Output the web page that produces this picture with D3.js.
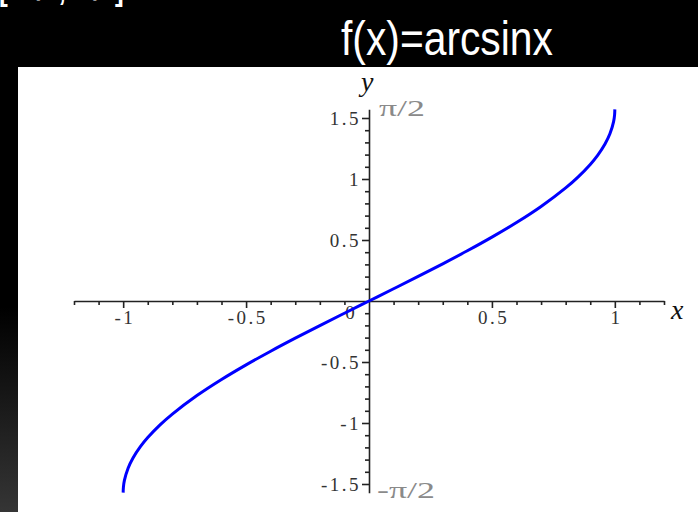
<!DOCTYPE html>
<html>
<head>
<meta charset="utf-8">
<script src="https://d3js.org/d3.v7.min.js"></script>
<style>
  html, body { margin: 0; padding: 0; background: #000; overflow: hidden; }
  svg { display: block; }
</style>
</head>
<body>
<svg id="chart" width="698" height="512"></svg>
<script>
// values: x and arcsin(x)
var xValues = [-1, -0.999, -0.995, -0.98, -0.96, -0.93, -0.9, -0.85, -0.8, -0.7, -0.6, -0.5, -0.4, -0.3, -0.2, -0.1,
               0, 0.1, 0.2, 0.3, 0.4, 0.5, 0.6, 0.7, 0.8, 0.85, 0.9, 0.93, 0.96, 0.98, 0.995, 0.999, 1];
var yValues = [-1.5708, -1.5261, -1.4708, -1.3705, -1.2870, -1.1944, -1.1198, -1.0160, -0.9273, -0.7754, -0.6435,
               -0.5236, -0.4115, -0.3047, -0.2014, -0.1002,
               0, 0.1002, 0.2014, 0.3047, 0.4115, 0.5236, 0.6435, 0.7754, 0.9273, 1.0160, 1.1198, 1.1944, 1.2870,
               1.3705, 1.4708, 1.5261, 1.5708];
var xMajorTicks = [-1, -0.5, 0.5, 1];
var yMajorTicks = [-1.5, -1, -0.5, 0.5, 1, 1.5];
var xDomain = [-1.2, 1.2];
var yDomain = [-Math.PI / 2, Math.PI / 2];
var titleText = "f(x)=arcsinx";
var topText = "[-\u03c0/2, \u03c0/2]";
var piLabels = ["\u03c0/2", "-\u03c0/2"];

var svg = d3.select("#chart");

// background with the grey fade on the left strip
var defs = svg.append("defs");
var grad = defs.append("linearGradient")
  .attr("id", "bgfade").attr("x1", 0).attr("y1", 0).attr("x2", 0).attr("y2", 1);
grad.append("stop").attr("offset", "0.6").attr("stop-color", "#000");
grad.append("stop").attr("offset", "1").attr("stop-color", "#353535");

svg.append("rect").attr("width", 698).attr("height", 512).attr("fill", "url(#bgfade)");
svg.append("rect").attr("x", 0).attr("y", 0).attr("width", 698).attr("height", 67).attr("fill", "#000");
svg.append("rect").attr("x", 18).attr("y", 67).attr("width", 680).attr("height", 445).attr("fill", "#fff");

var narrowFont = "'Liberation Sans Narrow', 'Liberation Sans', Arial, sans-serif";

// cut-off text at the very top, only its descenders show
svg.append("text")
  .attr("transform", "translate(-1,0) scale(0.82,1)")
  .attr("fill", "#fff")
  .style("font-family", narrowFont)
  .style("font-size", "32px")
  .style("font-weight", "bold")
  .text(topText);

svg.append("text")
  .attr("transform", "translate(341,55) scale(0.85,1)")
  .attr("fill", "#fff")
  .style("font-family", narrowFont)
  .style("font-size", "48px")
  .text(titleText);

var x = d3.scaleLinear().domain(xDomain).range([74, 664]);
var y = d3.scaleLinear().domain(yDomain).range([301 + 122 * Math.PI / 2, 301 - 122 * Math.PI / 2]);

var xMinor = d3.range(-12, 13).map(function (d) { return d / 10; })
  .filter(function (d) { return xMajorTicks.indexOf(d) < 0 && d !== 0; });
var yMinor = d3.range(-15, 16).map(function (d) { return d / 10; })
  .filter(function (d) { return yMajorTicks.indexOf(d) < 0 && d !== 0; });

var tickFont = "'Liberation Serif', 'DejaVu Serif', serif";

function styleLabels(g) {
  g.selectAll("text")
    .attr("fill", "#333")
    .style("font-family", tickFont)
    .style("font-size", "19px")
    .style("letter-spacing", "2.5px");
}

// x axis: minor ticks, then major with labels
svg.append("g")
  .attr("transform", "translate(0," + y(0) + ")")
  .call(d3.axisBottom(x).tickValues(xMinor).tickSize(4).tickSizeOuter(0).tickFormat(""))
  .call(function (g) { g.selectAll("line, path").attr("stroke", "#222").attr("stroke-width", 1.6); });

svg.append("g")
  .attr("transform", "translate(0," + y(0) + ")")
  .call(d3.axisBottom(x).tickValues(xMajorTicks).tickSize(7).tickSizeOuter(0).tickPadding(3)
    .tickFormat(function (d) { return String(d); }))
  .call(function (g) {
    g.select(".domain").remove();
    g.selectAll("line").attr("stroke", "#222").attr("stroke-width", 1.6);
    styleLabels(g);
    g.selectAll("text").attr("dx", "1.2");
  });

// y axis
svg.append("g")
  .attr("transform", "translate(" + x(0) + ",0)")
  .call(d3.axisLeft(y).tickValues(yMinor).tickSize(4).tickSizeOuter(0).tickFormat(""))
  .call(function (g) { g.selectAll("line, path").attr("stroke", "#222").attr("stroke-width", 1.6); });

svg.append("g")
  .attr("transform", "translate(" + x(0) + ",0)")
  .call(d3.axisLeft(y).tickValues(yMajorTicks).tickSize(7).tickSizeOuter(0).tickPadding(1)
    .tickFormat(function (d) { return String(d); }))
  .call(function (g) {
    g.select(".domain").remove();
    g.selectAll("line").attr("stroke", "#222").attr("stroke-width", 1.6);
    styleLabels(g);
  });

// origin label
svg.append("text")
  .attr("x", x(0) - 19).attr("y", y(0) + 18)
  .attr("text-anchor", "middle")
  .attr("fill", "#333")
  .style("font-family", tickFont).style("font-size", "19px")
  .text("0");

// pi/2 labels in grey
svg.selectAll(".pilabel")
  .data([Math.PI / 2, -Math.PI / 2])
  .enter().append("text")
  .attr("class", "pilabel")
  .attr("x", function (d, i) { return x(0) + (i === 0 ? 10 : 8); })
  .attr("y", function (d, i) { return y(d) + (i === 0 ? 7 : 5); })
  .attr("textLength", function (d, i) { return i === 0 ? 46 : 58; })
  .attr("lengthAdjust", "spacingAndGlyphs")
  .attr("fill", "#8a8a8a")
  .style("font-family", tickFont).style("font-size", "23px")
  .text(function (d, i) { return piLabels[i]; });

// axis names
svg.append("text")
  .attr("x", x(0) - 8).attr("y", 91)
  .attr("fill", "#111")
  .style("font-family", tickFont).style("font-style", "italic").style("font-size", "28px")
  .text("y");

svg.append("text")
  .attr("x", 671).attr("y", y(0) + 18)
  .attr("fill", "#111")
  .style("font-family", tickFont).style("font-style", "italic").style("font-size", "28px")
  .text("x");

// the curve
var line = d3.line()
  .x(function (d) { return x(d[0]); })
  .y(function (d) { return y(d[1]); })
  .curve(d3.curveCatmullRom.alpha(0.5));

svg.append("path")
  .datum(d3.zip(xValues, yValues))
  .attr("d", line)
  .attr("fill", "none")
  .attr("stroke", "#0000ff")
  .attr("stroke-width", 3);
</script>
</body>
</html>
